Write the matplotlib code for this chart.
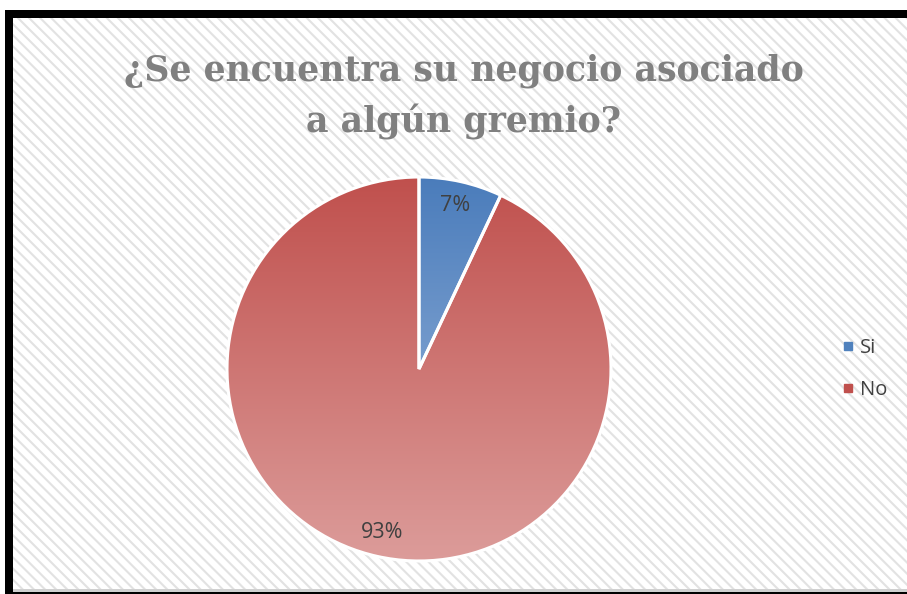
import numpy as np
import matplotlib
matplotlib.use("Agg")
import matplotlib.pyplot as plt
from matplotlib.patches import Rectangle
from matplotlib.colors import LinearSegmentedColormap
from matplotlib.lines import Line2D

# answers to the survey question
labels = ["Si", "No"]
shares = [7, 93]
title_lines = ["¿Se encuentra su negocio asociado", "a algún gremio?"]

# top / bottom colours of the vertical gradient fill for each slice
grad_top = ["#4a7cbb", "#c0504d"]
grad_bottom = ["#a4bde0", "#dc9c9a"]
legend_colors = ["#4f81bd", "#c0504d"]

W, H = 907, 594
fig = plt.figure(figsize=(W / 100, H / 100), dpi=100)
fig.patch.set_facecolor("white")

# frame: thick black border + hatched chart area, in pixel units
bg = fig.add_axes([0, 0, 1, 1])
bg.set_xlim(0, W)
bg.set_ylim(H, 0)
bg.axis("off")
plt.rcParams["hatch.linewidth"] = 1.5
bg.add_patch(Rectangle((5, 10), W, H, facecolor="black", lw=0))
bg.add_patch(Rectangle((13, 18), W, 572, facecolor="white", edgecolor="#e2e2e2",
                       hatch="\\\\\\", lw=0))
bg.add_patch(Rectangle((13, 589), W, 3, facecolor="#d0d0d0", lw=0))

for line, base in zip(title_lines, [80, 132]):
    bg.text(464, base, line, ha="center", va="baseline", fontsize=25,
            fontweight="bold", family="DejaVu Serif", color="#808080")

# pie, centred at (419, 369) px with a 192 px radius
cx, cy, r = 419, 369, 192
ax = fig.add_axes([(cx - r) / W, (H - cy - r) / H, 2 * r / W, 2 * r / H])
wedges, _, autotexts = ax.pie(shares, startangle=90, counterclock=False,
                              autopct="%1.0f%%", pctdistance=0.87,
                              wedgeprops=dict(edgecolor="white", linewidth=2.2),
                              textprops=dict(fontsize=15.5, color="#404040",
                                             family="Open Sans"))
ax.set_xlim(-1, 1)
ax.set_ylim(-1, 1)
ax.set_aspect("auto")

grad = np.linspace(0, 1, 256).reshape(-1, 1)
for w, top, bot in zip(wedges, grad_top, grad_bottom):
    cmap = LinearSegmentedColormap.from_list("g", [top, bot])
    im = ax.imshow(grad, cmap=cmap, extent=(-1, 1, -1, 1), aspect="auto",
                   origin="upper", zorder=0)
    im.set_clip_path(w)
    w.set_facecolor("none")
    w.set_zorder(1)
for t in autotexts:
    t.set_zorder(3)

handles = [Line2D([], [], marker="s", linestyle="none", markersize=6,
                  markerfacecolor=c, markeredgecolor=c) for c in legend_colors]
fig.legend(handles, labels, loc="center left", bbox_to_anchor=(836 / W, 1 - 369 / H),
           frameon=False, labelcolor="#404040", handletextpad=0.0,
           handlelength=1.2, borderpad=0, borderaxespad=0,
           labelspacing=1.05, prop=dict(family="Open Sans", size=14.5))

fig.savefig("out.png", dpi=100)
